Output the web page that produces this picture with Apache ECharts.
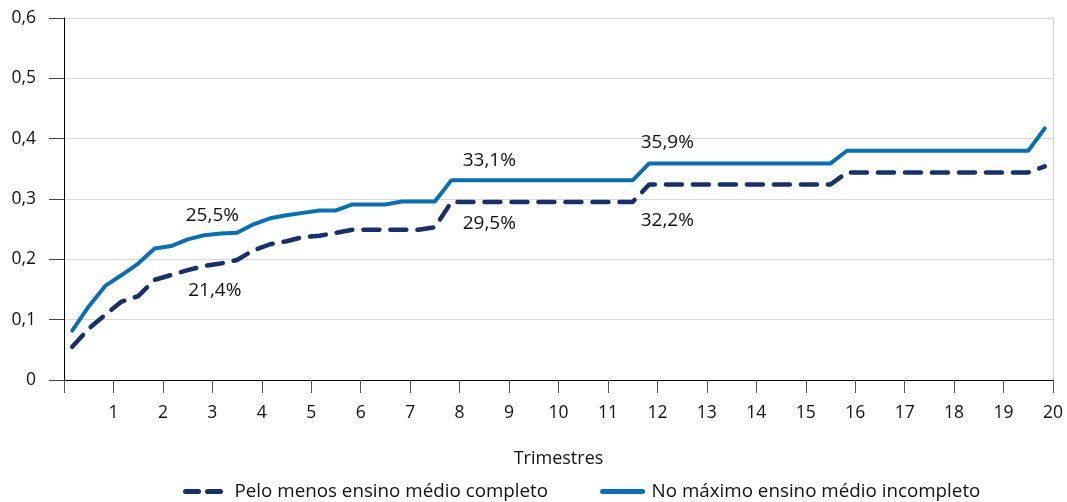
<!DOCTYPE html>
<html>
<head>
<meta charset="utf-8">
<script src="https://cdn.jsdelivr.net/npm/echarts@6/dist/echarts.min.js"></script>
<style>
    html, body { margin: 0; padding: 0; background: #fff; }
    #chart { width: 1067px; height: 502px; }
</style>
</head>
<body>
<div id="chart"></div>
<script>
// meses 1..60, posicionados em trimestres (centro do mês)
const months = Array.from({ length: 60 }, (_, i) => i + 1)

// Pelo menos ensino médio completo (tracejada)
const completo = [
    0.055, 0.085, 0.108, 0.130, 0.139, 0.166, 0.174, 0.182, 0.189, 0.193,
    0.199, 0.215, 0.225, 0.230, 0.237, 0.239, 0.244, 0.249, 0.249, 0.249,
    0.249, 0.249, 0.253, 0.295, 0.295, 0.295, 0.295, 0.295, 0.295, 0.295,
    0.295, 0.295, 0.295, 0.295, 0.295, 0.324, 0.324, 0.324, 0.324, 0.324,
    0.324, 0.324, 0.324, 0.324, 0.324, 0.324, 0.324, 0.344, 0.344, 0.344,
    0.344, 0.344, 0.344, 0.344, 0.344, 0.344, 0.344, 0.344, 0.344, 0.354
]

// No máximo ensino médio incompleto (contínua)
const incompleto = [
    0.082, 0.122, 0.156, 0.174, 0.193, 0.218, 0.222, 0.233, 0.240, 0.243,
    0.244, 0.258, 0.268, 0.273, 0.277, 0.281, 0.281, 0.291, 0.291, 0.291,
    0.296, 0.296, 0.296, 0.331, 0.331, 0.331, 0.331, 0.331, 0.331, 0.331,
    0.331, 0.331, 0.331, 0.331, 0.331, 0.359, 0.359, 0.359, 0.359, 0.359,
    0.359, 0.359, 0.359, 0.359, 0.359, 0.359, 0.359, 0.380, 0.380, 0.380,
    0.380, 0.380, 0.380, 0.380, 0.380, 0.380, 0.380, 0.380, 0.380, 0.417
]

// anotações (texto, posição em trimestres / proporção)
const notaTexto = ['25,5%', '21,4%', '33,1%', '29,5%', '35,9%', '32,2%']
const notaX = [3.0, 3.05, 8.6, 8.6, 12.2, 12.2]
const notaY = [0.272, 0.148, 0.363, 0.260, 0.393, 0.265]

const yTicks = ['0', '0,1', '0,2', '0,3', '0,4', '0,5', '0,6']

const fonte = '"Open Sans", "Noto Sans", sans-serif'
const azul = '#0a6fb2'
const marinho = '#17306a'
const texto = '#111'

const toPoints = arr => arr.map((v, i) => [(months[i] - 0.5) / 3, v])

const notaLabel = {
    show: true,
    position: 'inside',
    fontSize: 19,
    color: texto,
    formatter: p => p.name
}

const myChart = echarts.init(document.getElementById('chart'))
myChart.setOption({
    animation: false,
    textStyle: { fontFamily: fonte },
    grid: {
        left: 64,
        right: 14,
        top: 18,
        bottom: 122
    },
    legend: {
        left: 178,
        bottom: -4,
        itemWidth: 40,
        itemHeight: 12,
        itemGap: 52,
        textStyle: { fontSize: 18.8, color: texto, fontFamily: fonte, padding: [0, 0, 0, 4] },
        data: [
            {
                name: 'Pelo menos ensino médio completo',
                itemStyle: { opacity: 0 },
                lineStyle: { width: 5, type: [13, 9], cap: 'round', color: marinho }
            },
            {
                name: 'No máximo ensino médio incompleto',
                itemStyle: { opacity: 0 },
                lineStyle: { width: 5, type: 'solid', cap: 'round', color: azul }
            }
        ]
    },
    xAxis: {
        type: 'value',
        min: 0,
        max: 20,
        interval: 1,
        name: 'Trimestres',
        nameLocation: 'middle',
        nameGap: 70,
        nameTextStyle: { fontSize: 18, color: texto },
        axisLine: { lineStyle: { color: '#000', width: 1 } },
        axisTick: { length: 13, lineStyle: { color: '#555' } },
        axisLabel: {
            margin: 24,
            fontSize: 17.5,
            color: texto,
            formatter: v => (v === 0 ? '' : String(v))
        },
        splitLine: { show: false }
    },
    yAxis: [
        {
            type: 'value',
            min: 0,
            max: 0.6,
            interval: 0.1,
            axisLine: { show: true, lineStyle: { color: '#000', width: 1 } },
            axisTick: { show: true, length: 15, lineStyle: { color: '#444' } },
            axisLabel: {
                margin: 28,
                fontSize: 17.5,
                color: texto,
                formatter: v => yTicks[Math.round(v * 10)]
            },
            splitLine: { lineStyle: { color: '#d9d9d9', width: 1 } }
        },
        {
            type: 'value',
            position: 'right',
            min: 0,
            max: 0.6,
            axisLine: { show: true, lineStyle: { color: '#d0d0d0', width: 1 } },
            axisTick: { show: false },
            axisLabel: { show: false },
            splitLine: { show: false }
        }
    ],
    series: [
        {
            name: 'Pelo menos ensino médio completo',
            type: 'line',
            data: toPoints(completo),
            symbol: 'none',
            lineStyle: { color: marinho, width: 4.5, type: [16, 11], cap: 'round' },
            itemStyle: { color: marinho },
            markPoint: {
                symbolSize: 0,
                label: notaLabel,
                data: [1, 3, 5].map(i => ({ name: notaTexto[i], coord: [notaX[i], notaY[i]] }))
            }
        },
        {
            name: 'No máximo ensino médio incompleto',
            type: 'line',
            data: toPoints(incompleto),
            symbol: 'none',
            lineStyle: { color: azul, width: 4, cap: 'round' },
            itemStyle: { color: azul },
            markPoint: {
                symbolSize: 0,
                label: notaLabel,
                data: [0, 2, 4].map(i => ({ name: notaTexto[i], coord: [notaX[i], notaY[i]] }))
            }
        }
    ]
})
</script>
</body>
</html>
